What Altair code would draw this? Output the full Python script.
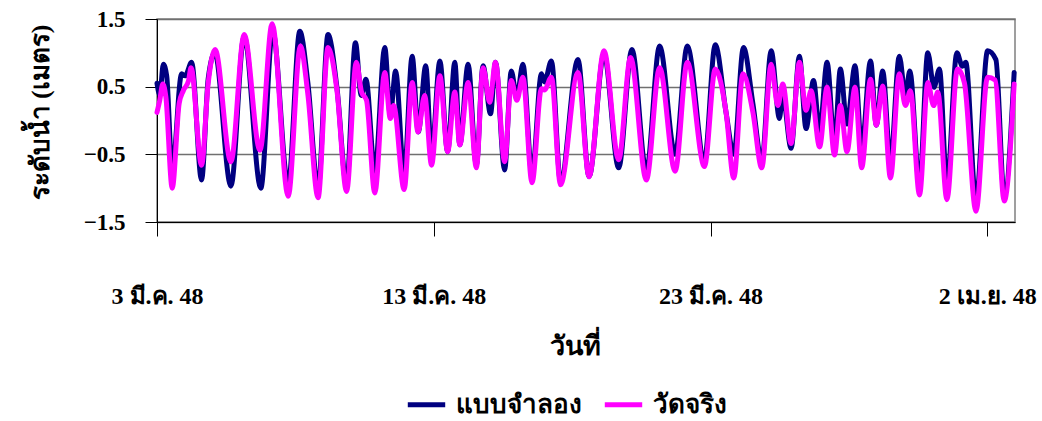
import altair as alt
import pandas as pd

# ---- data (days since 3 Mar 2005, water level in m) ----
series_names = ["แบบจำลอง", "วัดจริง"]
series_colors = ["#000080", "#FF00FF"]

model_day = [0.0, 0.1, 0.23, 0.35, 0.55, 0.89, 1.02, 1.25, 1.61, 1.85, 2.09, 2.67, 3.15, 3.75,
             4.18, 4.74, 5.16, 5.45, 5.82, 6.18, 6.5, 6.85, 7.17, 7.38, 7.55, 7.87, 8.23, 8.43,
             8.62, 8.93, 9.22, 9.44, 9.71, 9.92, 10.22, 10.5, 10.76, 10.94, 11.24, 11.54, 11.78,
             12.05, 12.23, 12.56, 12.8, 13.0, 13.22, 13.55, 13.89, 14.0, 14.25, 14.58, 15.21,
             15.61, 16.15, 16.68, 17.16, 17.68, 18.16, 18.72, 19.16, 19.78, 20.17, 20.56, 20.84,
             21.19, 21.53, 21.85, 22.19, 22.49, 22.6, 22.91, 23.21, 23.45, 23.72, 23.94, 24.21,
             24.48, 24.69, 24.93, 25.22, 25.46, 25.78, 25.99, 26.22, 26.5, 26.82, 27.04, 27.2,
             27.55, 27.85, 28.07, 28.27, 28.54, 28.9, 29.1, 29.22, 29.59, 30.01, 30.31, 30.61,
             30.97]
model_level = [0.55, 0.38, 0.83, 0.66, -0.73, 0.69, 0.66, 0.86, -0.88, 0.62, 1.0, -0.97, 1.25, -1.0,
               1.32, -0.95, 1.32, 0.56, -1.0, 1.27, 0.49, -0.95, 1.15, 0.37, 0.61, -0.75, 1.08, 0.08,
               0.73, -0.8, 0.95, -0.17, 0.81, -0.5, 0.88, -0.46, 0.86, -0.36, 0.83, -0.66, 0.81,
               0.1, 0.86, -0.73, 0.73, 0.34, 0.83, -0.8, 0.69, 0.57, 0.88, -0.9, 0.9,
               -0.83, 0.98, -0.7, 1.05, -0.75, 1.1, -0.5, 1.1, -0.58, 1.12, 0.12, -0.5,
               1.08, 0.25, -0.6, 1.03, 0.03, 0.4, -0.41, 0.95, -0.12, 0.59, -0.17, 0.86,
               -0.36, 0.76, -0.05, 0.81, -0.41, 0.88, -0.07, 0.73, -0.6, 0.95, 0.37, 0.73,
               -0.95, 1.0, 0.49, 0.76, -0.95, 1.0, 0.8, 0.86, -1.19, 1.03, 0.9, -1.1,
               0.71]

obs_day = [0.0, 0.1, 0.21, 0.32, 0.55, 0.8, 0.95, 1.14, 1.23, 1.61, 1.85, 2.1, 2.67, 3.15, 3.72,
           4.16, 4.74, 5.18, 5.45, 5.82, 6.18, 6.5, 6.85, 7.2, 7.39, 7.57, 7.87, 8.23, 8.43, 8.55,
           8.93, 9.22, 9.43, 9.67, 9.92, 10.22, 10.5, 10.76, 10.94, 11.24, 11.54, 11.78, 12.02,
           12.23, 12.56, 12.8, 13.0, 13.22, 13.55, 13.89, 14.0, 14.25, 14.58, 15.21, 15.61, 16.15,
           16.68, 17.11, 17.68, 18.16, 18.72, 19.16, 19.78, 20.17, 20.56, 20.84, 21.17, 21.53,
           21.85, 22.19, 22.43, 22.61, 22.91, 23.21, 23.45, 23.63, 23.94, 24.21, 24.48, 24.69,
           24.93, 25.22, 25.46, 25.78, 25.99, 26.22, 26.5, 26.82, 27.04, 27.22, 27.55, 27.85,
           28.06, 28.21, 28.54, 28.92, 29.17, 29.59, 30.01, 30.28, 30.61, 30.97]
obs_level = [0.12, 0.3, 0.54, 0.35, -1.0, 0.25, 0.44, 0.59, 0.78, -0.66, 0.55, 1.05, -0.61, 1.27, -0.44,
             1.43, -1.12, 1.1, 0.39, -1.14, 1.08, 0.45, -1.05, 0.86, 0.42, 0.3, -1.07, 0.71, 0.03, 0.22,
             -1.02, 0.56, -0.17, 0.37, -0.66, 0.66, -0.46, 0.42, -0.36, 0.56, -0.7, 0.78, 0.27,
             0.86, -0.61, 0.59, 0.3, 0.64, -0.92, 0.47, 0.45, 0.64, -0.95, 0.71, -0.83, 1.03,
             -0.58, 0.93, -0.88, 0.78, -0.75, 0.86, -0.68, 0.76, 0.12, -0.85, 0.69, 0.12,
             -0.7, 0.83, 0.22, 0.54, -0.34, 0.86, 0.15, 0.44, -0.39, 0.49, -0.51, 0.22,
             -0.46, 0.49, -0.7, 0.61, -0.07, 0.51, -0.85, 0.69, 0.22, 0.44, -1.1, 0.56,
             0.22, 0.42, -1.17, 0.76, 0.56, -1.34, 0.64, 0.6, -1.19, 0.54]

x_tick_values = [0, 10, 20, 30]
x_tick_labels = ["3 มี.ค. 48", "13 มี.ค. 48", "23 มี.ค. 48", "2 เม.ย. 48"]
y_tick_values = [-1.5, -0.5, 0.5, 1.5]

df = pd.concat([
    pd.DataFrame({"day": model_day, "level": model_level, "series": series_names[0]}),
    pd.DataFrame({"day": obs_day, "level": obs_level, "series": series_names[1]}),
], ignore_index=True)

label_expr = " : ".join(
    f"datum.value == {v} ? '{t}'" for v, t in zip(x_tick_values, x_tick_labels)
) + " : ''"

SERIF = "Liberation Serif, Times New Roman, serif"

x_enc = alt.X(
    "day:Q",
    scale=alt.Scale(domain=[0, 31], nice=False, zero=False),
    axis=alt.Axis(
        values=x_tick_values, labelExpr=label_expr, title="วันที่",
        grid=False, tickSize=14, tickColor="black", domainColor="black",
        labelFlush=False, labelOverlap=False, labelAlign="center",
        labelPadding=48, labelFontSize=24, labelFont=SERIF, labelFontWeight="bold",
        labelColor="black", titleFontSize=27, titleFont=SERIF, titleFontWeight="bold",
        titleColor="black", titleX=418, titleY=132, titleBaseline="alphabetic",
        titleAnchor="start", titleAlign="center",
    ),
)
y_enc = alt.Y(
    "level:Q",
    scale=alt.Scale(domain=[-1.5, 1.5], nice=False, zero=False),
    axis=alt.Axis(
        values=y_tick_values, format=".1f", title="ระดับน้ำ (เมตร)",
        grid=True, gridColor="#707070", gridWidth=1.3,
        tickSize=12, tickColor="black", domainColor="black",
        labelPadding=20, labelFontSize=23, labelFont=SERIF, labelFontWeight="bold",
        labelColor="black", titleFontSize=26, titleFont=SERIF, titleFontWeight="bold",
        titleColor="black", titleX=-117, titleY=93, titleAngle=270,
        titleAlign="center", titleBaseline="middle", titleAnchor="start",
    ),
)
color_enc = alt.Color(
    "series:N",
    scale=alt.Scale(domain=series_names, range=series_colors),
    legend=alt.Legend(
        title=None, orient="none", legendX=248, legendY=364, direction="horizontal",
        symbolType="stroke", symbolStrokeWidth=5, symbolSize=1400,
        labelFontSize=26, labelFont=SERIF, labelFontWeight="bold", labelColor="black",
        columnPadding=12, labelOffset=8,
    ),
)

base = alt.Chart(df).mark_line(
    strokeWidth=5, interpolate="monotone", strokeJoin="round", strokeCap="round"
).encode(x=x_enc, y=y_enc, color=color_enc)

model_layer = base.transform_filter(alt.datum.series == series_names[0])
obs_layer = base.transform_filter(alt.datum.series == series_names[1])

chart = alt.layer(model_layer, obs_layer).properties(
    width=858, height=203,
    autosize=alt.AutoSizeParams(type="none"),
    padding={"left": 157, "top": 19, "right": 27, "bottom": 199},
    background="white",
).configure_view(stroke="#808080", strokeWidth=1.5)

chart.save("out.html", embed_options={"renderer": "svg", "actions": False})
